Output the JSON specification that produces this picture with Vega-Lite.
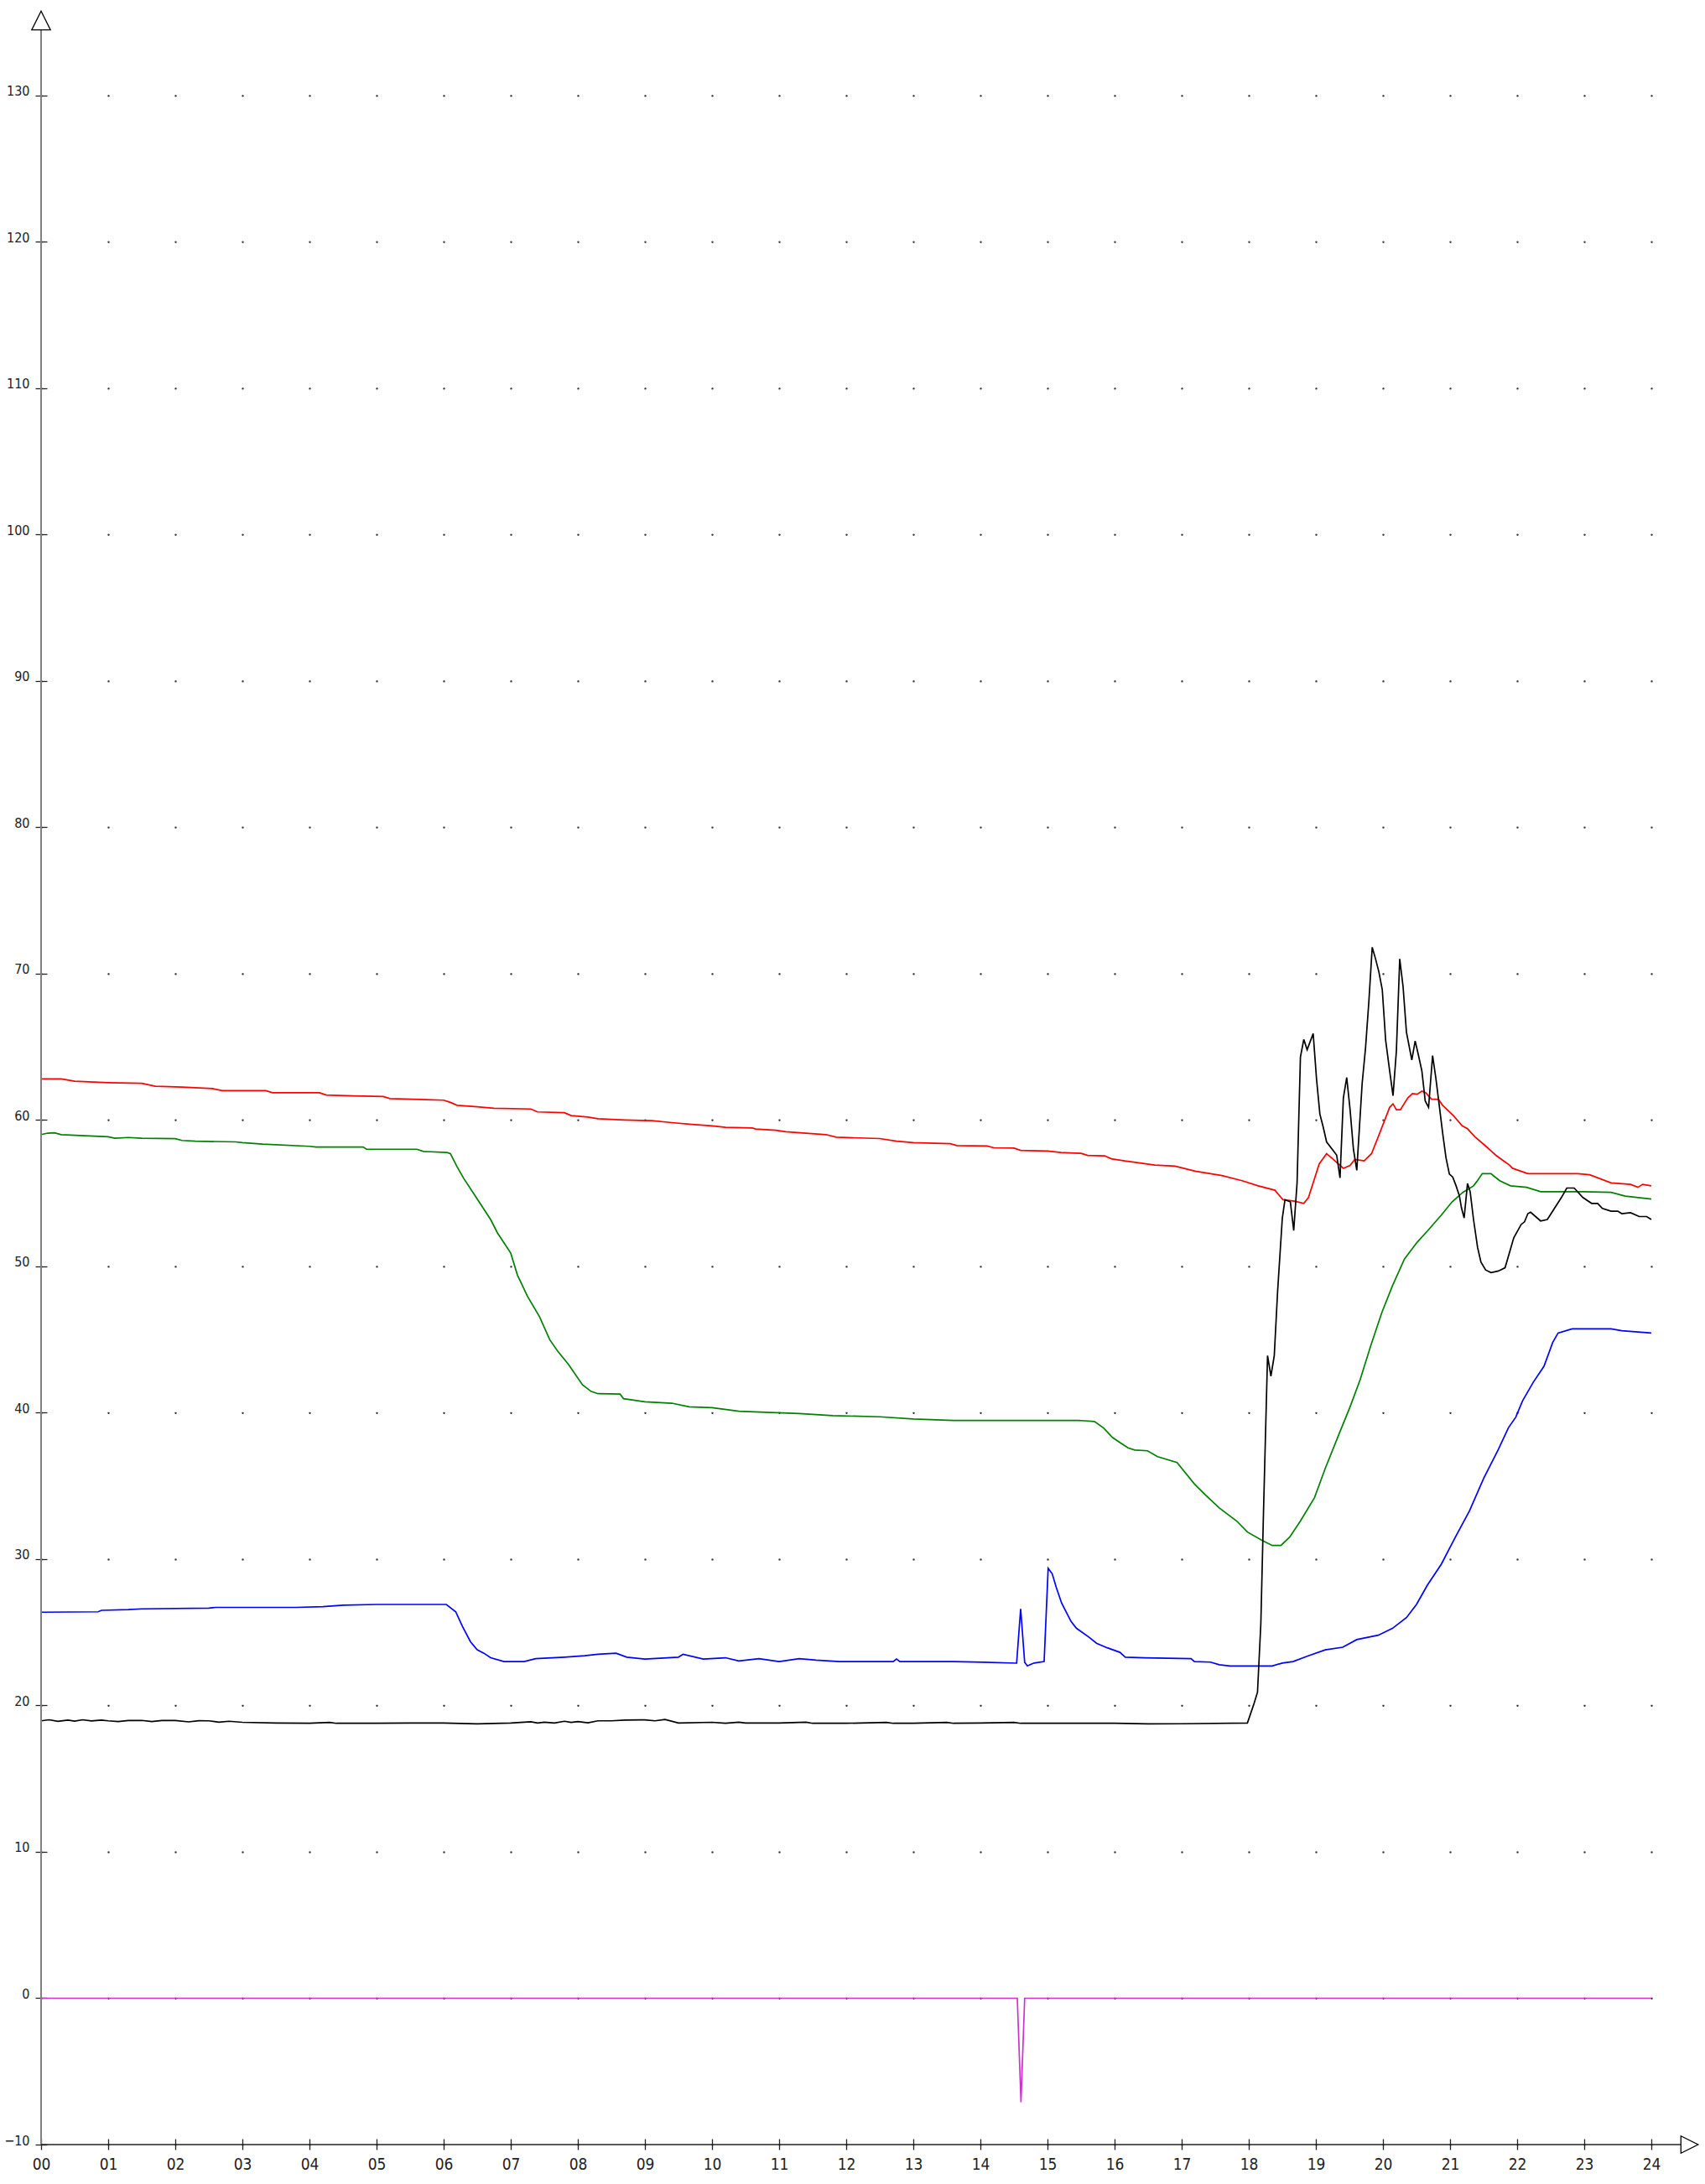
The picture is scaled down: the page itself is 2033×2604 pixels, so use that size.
{
  "$schema": "https://vega.github.io/schema/vega-lite/v6.json",
  "autosize": {"type": "none"},
  "padding": {"left": 49, "top": 36, "right": 29, "bottom": 47},
  "width": 1955,
  "height": 2521,
  "background": "white",
  "config": {"view": {"stroke": null}},
  "datasets": {
    "series": [
      {"s":"magenta","h":0,"v":0},{"s":"magenta","h":14.55,"v":0},{"s":"magenta","h":14.605,"v":-7.1},{"s":"magenta","h":14.66,"v":0},{"s":"magenta","h":24,"v":0},

      {"s":"blue","h":0,"v":26.37},{"s":"blue","h":0.85,"v":26.4},{"s":"blue","h":0.9,"v":26.5},{"s":"blue","h":1.3,"v":26.55},{"s":"blue","h":1.5,"v":26.6},{"s":"blue","h":2.5,"v":26.65},{"s":"blue","h":2.6,"v":26.7},{"s":"blue","h":3.8,"v":26.7},{"s":"blue","h":4.2,"v":26.75},{"s":"blue","h":4.5,"v":26.85},{"s":"blue","h":5.0,"v":26.9},{"s":"blue","h":6.04,"v":26.9},{"s":"blue","h":6.18,"v":26.4},{"s":"blue","h":6.28,"v":25.4},{"s":"blue","h":6.4,"v":24.35},{"s":"blue","h":6.5,"v":23.8},{"s":"blue","h":6.6,"v":23.57},{"s":"blue","h":6.7,"v":23.26},{"s":"blue","h":6.9,"v":23.0},{"s":"blue","h":7.2,"v":23.0},{"s":"blue","h":7.37,"v":23.2},{"s":"blue","h":7.8,"v":23.3},{"s":"blue","h":8.1,"v":23.4},{"s":"blue","h":8.3,"v":23.5},{"s":"blue","h":8.57,"v":23.57},{"s":"blue","h":8.73,"v":23.3},{"s":"blue","h":9.0,"v":23.17},{"s":"blue","h":9.5,"v":23.3},{"s":"blue","h":9.57,"v":23.5},{"s":"blue","h":9.87,"v":23.17},{"s":"blue","h":10.2,"v":23.26},{"s":"blue","h":10.4,"v":23.04},{"s":"blue","h":10.7,"v":23.2},{"s":"blue","h":11.0,"v":23.0},{"s":"blue","h":11.3,"v":23.2},{"s":"blue","h":11.55,"v":23.1},{"s":"blue","h":11.9,"v":23.0},{"s":"blue","h":12.7,"v":23.0},{"s":"blue","h":12.75,"v":23.17},{"s":"blue","h":12.8,"v":23.0},{"s":"blue","h":13.6,"v":23.0},{"s":"blue","h":14.05,"v":22.95},{"s":"blue","h":14.54,"v":22.89},{"s":"blue","h":14.6,"v":26.6},{"s":"blue","h":14.66,"v":22.95},{"s":"blue","h":14.7,"v":22.7},{"s":"blue","h":14.8,"v":22.9},{"s":"blue","h":14.95,"v":23.0},{"s":"blue","h":15.01,"v":29.37},{"s":"blue","h":15.07,"v":29.0},{"s":"blue","h":15.13,"v":28.07},{"s":"blue","h":15.21,"v":27.0},{"s":"blue","h":15.35,"v":25.75},{"s":"blue","h":15.43,"v":25.28},{"s":"blue","h":15.62,"v":24.66},{"s":"blue","h":15.73,"v":24.25},{"s":"blue","h":15.89,"v":23.94},{"s":"blue","h":16.08,"v":23.63},{"s":"blue","h":16.16,"v":23.3},{"s":"blue","h":16.45,"v":23.25},{"s":"blue","h":17.14,"v":23.2},{"s":"blue","h":17.19,"v":23.0},{"s":"blue","h":17.43,"v":22.96},{"s":"blue","h":17.56,"v":22.78},{"s":"blue","h":17.72,"v":22.7},{"s":"blue","h":18.35,"v":22.7},{"s":"blue","h":18.5,"v":22.9},{"s":"blue","h":18.66,"v":23.0},{"s":"blue","h":18.87,"v":23.36},{"s":"blue","h":19.14,"v":23.8},{"s":"blue","h":19.4,"v":23.98},{"s":"blue","h":19.61,"v":24.5},{"s":"blue","h":19.93,"v":24.8},{"s":"blue","h":20.14,"v":25.26},{"s":"blue","h":20.35,"v":26.0},{"s":"blue","h":20.5,"v":26.9},{"s":"blue","h":20.66,"v":28.2},{"s":"blue","h":20.87,"v":29.65},{"s":"blue","h":21.08,"v":31.5},{"s":"blue","h":21.29,"v":33.3},{"s":"blue","h":21.5,"v":35.5},{"s":"blue","h":21.72,"v":37.5},{"s":"blue","h":21.87,"v":38.97},{"s":"blue","h":21.98,"v":39.7},{"s":"blue","h":22.08,"v":40.8},{"s":"blue","h":22.24,"v":42.08},{"s":"blue","h":22.4,"v":43.17},{"s":"blue","h":22.53,"v":44.8},{"s":"blue","h":22.61,"v":45.44},{"s":"blue","h":22.82,"v":45.73},{"s":"blue","h":23.4,"v":45.73},{"s":"blue","h":23.56,"v":45.6},{"s":"blue","h":24.0,"v":45.44},

      {"s":"green","h":0,"v":59.0},{"s":"green","h":0.1,"v":59.1},{"s":"green","h":0.2,"v":59.12},{"s":"green","h":0.3,"v":59.0},{"s":"green","h":1.0,"v":58.85},{"s":"green","h":1.1,"v":58.75},{"s":"green","h":1.3,"v":58.8},{"s":"green","h":1.5,"v":58.75},{"s":"green","h":2.0,"v":58.72},{"s":"green","h":2.1,"v":58.6},{"s":"green","h":2.3,"v":58.55},{"s":"green","h":2.9,"v":58.5},{"s":"green","h":3.0,"v":58.45},{"s":"green","h":3.3,"v":58.35},{"s":"green","h":4.0,"v":58.2},{"s":"green","h":4.1,"v":58.15},{"s":"green","h":4.8,"v":58.15},{"s":"green","h":4.85,"v":58.0},{"s":"green","h":5.6,"v":58.0},{"s":"green","h":5.7,"v":57.85},{"s":"green","h":6.05,"v":57.78},{"s":"green","h":6.1,"v":57.7},{"s":"green","h":6.2,"v":56.8},{"s":"green","h":6.3,"v":56.0},{"s":"green","h":6.5,"v":54.6},{"s":"green","h":6.7,"v":53.2},{"s":"green","h":6.8,"v":52.3},{"s":"green","h":7.0,"v":50.9},{"s":"green","h":7.1,"v":49.4},{"s":"green","h":7.25,"v":47.95},{"s":"green","h":7.43,"v":46.55},{"s":"green","h":7.58,"v":45.0},{"s":"green","h":7.7,"v":44.2},{"s":"green","h":7.86,"v":43.3},{"s":"green","h":8.07,"v":41.9},{"s":"green","h":8.2,"v":41.45},{"s":"green","h":8.3,"v":41.3},{"s":"green","h":8.63,"v":41.27},{"s":"green","h":8.68,"v":40.96},{"s":"green","h":9.0,"v":40.75},{"s":"green","h":9.4,"v":40.65},{"s":"green","h":9.66,"v":40.4},{"s":"green","h":10.0,"v":40.34},{"s":"green","h":10.4,"v":40.1},{"s":"green","h":10.8,"v":40.03},{"s":"green","h":11.3,"v":39.94},{"s":"green","h":11.8,"v":39.8},{"s":"green","h":12.5,"v":39.72},{"s":"green","h":13.0,"v":39.57},{"s":"green","h":13.6,"v":39.47},{"s":"green","h":15.46,"v":39.47},{"s":"green","h":15.55,"v":39.45},{"s":"green","h":15.7,"v":39.4},{"s":"green","h":15.84,"v":38.94},{"s":"green","h":15.97,"v":38.3},{"s":"green","h":16.1,"v":37.9},{"s":"green","h":16.2,"v":37.6},{"s":"green","h":16.3,"v":37.45},{"s":"green","h":16.49,"v":37.4},{"s":"green","h":16.64,"v":37.0},{"s":"green","h":16.93,"v":36.6},{"s":"green","h":17.19,"v":35.13},{"s":"green","h":17.35,"v":34.4},{"s":"green","h":17.56,"v":33.5},{"s":"green","h":17.82,"v":32.6},{"s":"green","h":17.98,"v":31.85},{"s":"green","h":18.19,"v":31.3},{"s":"green","h":18.35,"v":30.93},{"s":"green","h":18.48,"v":30.93},{"s":"green","h":18.61,"v":31.5},{"s":"green","h":18.77,"v":32.6},{"s":"green","h":18.98,"v":34.2},{"s":"green","h":19.14,"v":36.2},{"s":"green","h":19.35,"v":38.6},{"s":"green","h":19.51,"v":40.4},{"s":"green","h":19.66,"v":42.26},{"s":"green","h":19.82,"v":44.6},{"s":"green","h":19.98,"v":46.8},{"s":"green","h":20.14,"v":48.65},{"s":"green","h":20.32,"v":50.5},{"s":"green","h":20.51,"v":51.65},{"s":"green","h":20.66,"v":52.4},{"s":"green","h":20.87,"v":53.5},{"s":"green","h":21.03,"v":54.4},{"s":"green","h":21.19,"v":55.05},{"s":"green","h":21.35,"v":55.5},{"s":"green","h":21.4,"v":55.8},{"s":"green","h":21.48,"v":56.33},{"s":"green","h":21.61,"v":56.33},{"s":"green","h":21.74,"v":55.85},{"s":"green","h":21.9,"v":55.5},{"s":"green","h":22.14,"v":55.4},{"s":"green","h":22.35,"v":55.1},{"s":"green","h":22.98,"v":55.1},{"s":"green","h":23.4,"v":55.05},{"s":"green","h":23.61,"v":54.8},{"s":"green","h":24.0,"v":54.6},

      {"s":"red","h":0,"v":62.8},{"s":"red","h":0.3,"v":62.8},{"s":"red","h":0.5,"v":62.65},{"s":"red","h":1.0,"v":62.55},{"s":"red","h":1.5,"v":62.5},{"s":"red","h":1.7,"v":62.3},{"s":"red","h":2.1,"v":62.25},{"s":"red","h":2.55,"v":62.15},{"s":"red","h":2.7,"v":62.0},{"s":"red","h":3.35,"v":62.0},{"s":"red","h":3.45,"v":61.86},{"s":"red","h":4.15,"v":61.86},{"s":"red","h":4.25,"v":61.7},{"s":"red","h":4.65,"v":61.65},{"s":"red","h":5.1,"v":61.6},{"s":"red","h":5.2,"v":61.46},{"s":"red","h":5.65,"v":61.4},{"s":"red","h":6.0,"v":61.35},{"s":"red","h":6.1,"v":61.2},{"s":"red","h":6.2,"v":61.0},{"s":"red","h":6.5,"v":60.9},{"s":"red","h":6.75,"v":60.8},{"s":"red","h":7.3,"v":60.75},{"s":"red","h":7.4,"v":60.55},{"s":"red","h":7.8,"v":60.5},{"s":"red","h":7.9,"v":60.3},{"s":"red","h":8.15,"v":60.2},{"s":"red","h":8.3,"v":60.08},{"s":"red","h":8.7,"v":60.0},{"s":"red","h":9.1,"v":59.95},{"s":"red","h":9.4,"v":59.82},{"s":"red","h":9.7,"v":59.7},{"s":"red","h":10.0,"v":59.6},{"s":"red","h":10.2,"v":59.5},{"s":"red","h":10.6,"v":59.45},{"s":"red","h":10.65,"v":59.38},{"s":"red","h":10.95,"v":59.3},{"s":"red","h":11.1,"v":59.2},{"s":"red","h":11.4,"v":59.1},{"s":"red","h":11.7,"v":59.0},{"s":"red","h":11.85,"v":58.82},{"s":"red","h":12.5,"v":58.73},{"s":"red","h":12.75,"v":58.55},{"s":"red","h":13.0,"v":58.45},{"s":"red","h":13.55,"v":58.38},{"s":"red","h":13.65,"v":58.25},{"s":"red","h":14.1,"v":58.22},{"s":"red","h":14.2,"v":58.1},{"s":"red","h":14.5,"v":58.08},{"s":"red","h":14.6,"v":57.92},{"s":"red","h":15.0,"v":57.88},{"s":"red","h":15.2,"v":57.78},{"s":"red","h":15.5,"v":57.72},{"s":"red","h":15.6,"v":57.58},{"s":"red","h":15.85,"v":57.55},{"s":"red","h":15.95,"v":57.35},{"s":"red","h":16.15,"v":57.2},{"s":"red","h":16.4,"v":57.05},{"s":"red","h":16.6,"v":56.92},{"s":"red","h":16.9,"v":56.85},{"s":"red","h":17.2,"v":56.5},{"s":"red","h":17.6,"v":56.2},{"s":"red","h":17.9,"v":55.85},{"s":"red","h":18.14,"v":55.5},{"s":"red","h":18.39,"v":55.2},{"s":"red","h":18.51,"v":54.55},{"s":"red","h":18.68,"v":54.45},{"s":"red","h":18.82,"v":54.3},{"s":"red","h":18.89,"v":54.7},{"s":"red","h":19.05,"v":57.0},{"s":"red","h":19.16,"v":57.7},{"s":"red","h":19.26,"v":57.3},{"s":"red","h":19.41,"v":56.7},{"s":"red","h":19.51,"v":56.9},{"s":"red","h":19.58,"v":57.3},{"s":"red","h":19.72,"v":57.2},{"s":"red","h":19.83,"v":57.7},{"s":"red","h":19.93,"v":58.85},{"s":"red","h":20.1,"v":60.86},{"s":"red","h":20.15,"v":61.1},{"s":"red","h":20.2,"v":60.7},{"s":"red","h":20.26,"v":60.7},{"s":"red","h":20.37,"v":61.5},{"s":"red","h":20.44,"v":61.8},{"s":"red","h":20.51,"v":61.76},{"s":"red","h":20.58,"v":61.97},{"s":"red","h":20.64,"v":61.85},{"s":"red","h":20.72,"v":61.43},{"s":"red","h":20.83,"v":61.4},{"s":"red","h":20.89,"v":61.0},{"s":"red","h":21.05,"v":60.3},{"s":"red","h":21.18,"v":59.6},{"s":"red","h":21.26,"v":59.4},{"s":"red","h":21.37,"v":58.85},{"s":"red","h":21.51,"v":58.3},{"s":"red","h":21.68,"v":57.6},{"s":"red","h":21.8,"v":57.2},{"s":"red","h":21.89,"v":56.9},{"s":"red","h":21.93,"v":56.7},{"s":"red","h":22.16,"v":56.33},{"s":"red","h":22.9,"v":56.33},{"s":"red","h":23.08,"v":56.26},{"s":"red","h":23.4,"v":55.7},{"s":"red","h":23.69,"v":55.6},{"s":"red","h":23.8,"v":55.4},{"s":"red","h":23.87,"v":55.6},{"s":"red","h":24.0,"v":55.5},

      {"s":"black","h":0,"v":18.95},{"s":"black","h":0.12,"v":19.02},{"s":"black","h":0.25,"v":18.92},{"s":"black","h":0.4,"v":19.0},{"s":"black","h":0.5,"v":18.93},{"s":"black","h":0.62,"v":19.02},{"s":"black","h":0.75,"v":18.94},{"s":"black","h":0.9,"v":19.0},{"s":"black","h":1,"v":18.95},{"s":"black","h":1.15,"v":18.9},{"s":"black","h":1.3,"v":18.97},{"s":"black","h":1.5,"v":18.98},{"s":"black","h":1.65,"v":18.9},{"s":"black","h":1.8,"v":18.97},{"s":"black","h":2,"v":18.97},{"s":"black","h":2.2,"v":18.88},{"s":"black","h":2.35,"v":18.96},{"s":"black","h":2.5,"v":18.95},{"s":"black","h":2.65,"v":18.86},{"s":"black","h":2.8,"v":18.92},{"s":"black","h":3,"v":18.85},{"s":"black","h":3.5,"v":18.8},{"s":"black","h":4,"v":18.78},{"s":"black","h":4.3,"v":18.84},{"s":"black","h":4.4,"v":18.78},{"s":"black","h":5,"v":18.78},{"s":"black","h":5.5,"v":18.8},{"s":"black","h":6,"v":18.8},{"s":"black","h":6.5,"v":18.74},{"s":"black","h":7,"v":18.8},{"s":"black","h":7.3,"v":18.88},{"s":"black","h":7.4,"v":18.8},{"s":"black","h":7.5,"v":18.86},{"s":"black","h":7.65,"v":18.8},{"s":"black","h":7.8,"v":18.92},{"s":"black","h":7.9,"v":18.84},{"s":"black","h":8,"v":18.9},{"s":"black","h":8.15,"v":18.82},{"s":"black","h":8.3,"v":18.95},{"s":"black","h":8.5,"v":18.95},{"s":"black","h":8.7,"v":19.0},{"s":"black","h":9,"v":19.02},{"s":"black","h":9.15,"v":18.95},{"s":"black","h":9.3,"v":19.04},{"s":"black","h":9.5,"v":18.8},{"s":"black","h":10,"v":18.85},{"s":"black","h":10.2,"v":18.78},{"s":"black","h":10.4,"v":18.86},{"s":"black","h":10.5,"v":18.8},{"s":"black","h":11,"v":18.8},{"s":"black","h":11.4,"v":18.86},{"s":"black","h":11.5,"v":18.78},{"s":"black","h":12,"v":18.78},{"s":"black","h":12.6,"v":18.84},{"s":"black","h":12.7,"v":18.78},{"s":"black","h":13,"v":18.78},{"s":"black","h":13.5,"v":18.84},{"s":"black","h":13.6,"v":18.78},{"s":"black","h":14,"v":18.8},{"s":"black","h":14.5,"v":18.84},{"s":"black","h":14.6,"v":18.78},{"s":"black","h":15,"v":18.78},{"s":"black","h":16,"v":18.78},{"s":"black","h":16.5,"v":18.74},{"s":"black","h":17,"v":18.75},{"s":"black","h":17.98,"v":18.8},{"s":"black","h":18.08,"v":20.15},{"s":"black","h":18.13,"v":20.9},{"s":"black","h":18.18,"v":25.6},{"s":"black","h":18.22,"v":33.3},{"s":"black","h":18.28,"v":43.9},{"s":"black","h":18.33,"v":42.5},{"s":"black","h":18.38,"v":43.9},{"s":"black","h":18.43,"v":48.3},{"s":"black","h":18.5,"v":53.3},{"s":"black","h":18.54,"v":54.55},{"s":"black","h":18.62,"v":54.4},{"s":"black","h":18.67,"v":52.45},{"s":"black","h":18.72,"v":55.7},{"s":"black","h":18.77,"v":64.3},{"s":"black","h":18.82,"v":65.5},{"s":"black","h":18.87,"v":64.8},{"s":"black","h":18.96,"v":65.9},{"s":"black","h":19.01,"v":62.8},{"s":"black","h":19.06,"v":60.4},{"s":"black","h":19.11,"v":59.5},{"s":"black","h":19.16,"v":58.5},{"s":"black","h":19.26,"v":57.9},{"s":"black","h":19.31,"v":57.6},{"s":"black","h":19.36,"v":56.04},{"s":"black","h":19.41,"v":61.5},{"s":"black","h":19.46,"v":62.9},{"s":"black","h":19.51,"v":60.7},{"s":"black","h":19.56,"v":58.0},{"s":"black","h":19.61,"v":56.56},{"s":"black","h":19.69,"v":62.5},{"s":"black","h":19.74,"v":64.9},{"s":"black","h":19.79,"v":68.1},{"s":"black","h":19.84,"v":71.8},{"s":"black","h":19.89,"v":71.0},{"s":"black","h":19.94,"v":70.1},{"s":"black","h":19.99,"v":68.9},{"s":"black","h":20.04,"v":65.45},{"s":"black","h":20.1,"v":63.35},{"s":"black","h":20.15,"v":61.66},{"s":"black","h":20.2,"v":64.7},{"s":"black","h":20.25,"v":71.0},{"s":"black","h":20.3,"v":69.1},{"s":"black","h":20.35,"v":66.0},{"s":"black","h":20.43,"v":64.1},{"s":"black","h":20.48,"v":65.4},{"s":"black","h":20.53,"v":64.4},{"s":"black","h":20.58,"v":63.35},{"s":"black","h":20.63,"v":61.3},{"s":"black","h":20.68,"v":60.86},{"s":"black","h":20.74,"v":64.4},{"s":"black","h":20.79,"v":62.8},{"s":"black","h":20.84,"v":60.96},{"s":"black","h":20.89,"v":59.1},{"s":"black","h":20.94,"v":57.4},{"s":"black","h":20.99,"v":56.3},{"s":"black","h":21.04,"v":56.1},{"s":"black","h":21.09,"v":55.5},{"s":"black","h":21.14,"v":54.8},{"s":"black","h":21.17,"v":54.0},{"s":"black","h":21.21,"v":53.3},{"s":"black","h":21.26,"v":55.66},{"s":"black","h":21.3,"v":55.1},{"s":"black","h":21.35,"v":53.2},{"s":"black","h":21.41,"v":51.3},{"s":"black","h":21.46,"v":50.3},{"s":"black","h":21.53,"v":49.75},{"s":"black","h":21.61,"v":49.57},{"s":"black","h":21.72,"v":49.68},{"s":"black","h":21.82,"v":49.9},{"s":"black","h":21.95,"v":51.95},{"s":"black","h":22.06,"v":52.86},{"s":"black","h":22.11,"v":53.04},{"s":"black","h":22.16,"v":53.6},{"s":"black","h":22.2,"v":53.7},{"s":"black","h":22.35,"v":53.1},{"s":"black","h":22.45,"v":53.2},{"s":"black","h":22.53,"v":53.77},{"s":"black","h":22.66,"v":54.7},{"s":"black","h":22.74,"v":55.35},{"s":"black","h":22.85,"v":55.35},{"s":"black","h":22.98,"v":54.7},{"s":"black","h":23.11,"v":54.3},{"s":"black","h":23.2,"v":54.3},{"s":"black","h":23.27,"v":53.96},{"s":"black","h":23.4,"v":53.77},{"s":"black","h":23.5,"v":53.77},{"s":"black","h":23.56,"v":53.6},{"s":"black","h":23.69,"v":53.66},{"s":"black","h":23.82,"v":53.4},{"s":"black","h":23.93,"v":53.4},{"s":"black","h":24.0,"v":53.2}
    ]
  },
  "layer": [
    {
      "data": {"name": "series"},
      "mark": {"type": "line", "strokeWidth": 1.7, "interpolate": "linear"},
      "encoding": {
        "x": {
          "field": "h", "type": "quantitative",
          "scale": {"domain": [0, 24.4375], "nice": false, "zero": false},
          "axis": {
            "title": null,
            "values": [0,1,2,3,4,5,6,7,8,9,10,11,12,13,14,15,16,17,18,19,20,21,22,23,24],
            "format": "02d",
            "offset": -7,
            "domain": false,
            "ticks": true,
            "tickSize": 13,
            "tickColor": "#222222",
            "tickWidth": 1.3,
            "labelFont": "Liberation Sans Narrow, DejaVu Sans Condensed, sans-serif",
            "labelFontSize": 19,
            "labelColor": "#222222",
            "labelPadding": 8,
            "labelFlush": false,
            "labelOverlap": false,
            "labelBaseline": "top",
            "grid": true,
            "gridDash": [2, 172.524],
            "gridDashOffset": 97.864,
            "gridColor": "#333333",
            "gridWidth": 1.5,
            "gridOpacity": 1
          }
        },
        "y": {
          "field": "v", "type": "quantitative",
          "scale": {"domain": [-10, 134.45], "nice": false, "zero": false},
          "axis": {
            "title": null,
            "values": [-10,0,10,20,30,40,50,60,70,80,90,100,110,120,130],
            "format": "d",
            "offset": -7,
            "domain": false,
            "ticks": true,
            "tickSize": 14,
            "tickColor": "#222222",
            "tickWidth": 1.3,
            "labelFont": "DejaVu Sans Condensed, DejaVu Sans, sans-serif",
            "labelFontSize": 16,
            "labelColor": "#222222",
            "labelPadding": 7,
            "labelBaseline": "alphabetic",
            "labelFlush": false,
            "labelOverlap": false,
            "grid": true,
            "gridDash": [2, 78],
            "gridDashOffset": 1,
            "gridColor": "#333333",
            "gridWidth": 1.5,
            "gridOpacity": 1
          }
        },
        "color": {
          "field": "s", "type": "nominal",
          "scale": {
            "domain": ["magenta", "blue", "green", "red", "black"],
            "range": ["#cc33cc", "#0000ff", "#008000", "#ff0000", "#000000"]
          },
          "legend": null
        }
      }
    },
    {
      "data": {"values": [{}]},
      "mark": {"type": "rule", "color": "#808080", "strokeWidth": 2},
      "encoding": {"x": {"datum": 0}}
    },
    {
      "data": {"values": [{}]},
      "mark": {"type": "rule", "color": "#222222", "strokeWidth": 1.3},
      "encoding": {"y": {"datum": -10}}
    },
    {
      "data": {"values": [{}]},
      "mark": {"type": "point", "shape": "M0,-1L1,1L-1,1Z", "size": 500, "filled": true, "fill": "white", "stroke": "black", "strokeWidth": 1.3, "opacity": 1},
      "encoding": {"x": {"datum": 0}, "y": {"datum": 135.11}}
    },
    {
      "data": {"values": [{}]},
      "mark": {"type": "point", "shape": "M-1,-1L1,0L-1,1Z", "size": 420, "filled": true, "fill": "white", "stroke": "black", "strokeWidth": 1.3, "opacity": 1},
      "encoding": {"x": {"datum": 24.569}, "y": {"datum": -10}}
    }
  ]
}
